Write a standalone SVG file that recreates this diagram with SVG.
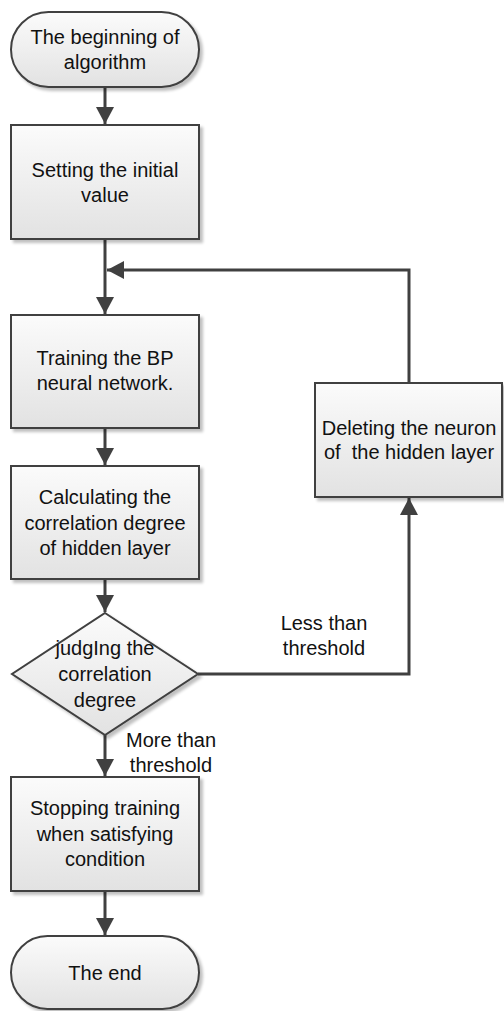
<svg xmlns="http://www.w3.org/2000/svg" width="504" height="1011" viewBox="0 0 504 1011">
<style>
.n{fill:url(#g);stroke:#404040;stroke-width:2;filter:url(#sh)}
.t{font-family:"Liberation Sans",Arial,sans-serif;font-size:20px;fill:#111;text-anchor:middle;white-space:pre}
.c{fill:none;stroke:#404040;stroke-width:3}
</style>
<defs>
<linearGradient id="g" x1="0" y1="0" x2="0" y2="1">
<stop offset="0" stop-color="#fbfbfb"/>
<stop offset="1" stop-color="#e2e2e2"/>
</linearGradient>
<filter id="sh" x="-10%" y="-10%" width="130%" height="130%">
<feGaussianBlur in="SourceAlpha" stdDeviation="1.5"/>
<feOffset dx="3" dy="3" result="b"/>
<feComponentTransfer><feFuncA type="linear" slope="0.25"/></feComponentTransfer>
<feMerge><feMergeNode/><feMergeNode in="SourceGraphic"/></feMerge>
</filter>
<marker id="a" markerWidth="17" markerHeight="18" viewBox="0 0 17 18" refX="17" refY="9" orient="auto" markerUnits="userSpaceOnUse">
<path d="M0,0 L17,9 L0,18 Z" fill="#404040"/>
</marker>
</defs>
<g id="connectors">
<path class="c" d="M105,87 V124" marker-end="url(#a)"/>
<path class="c" d="M105,239 V314" marker-end="url(#a)"/>
<path class="c" d="M409,383 V270 H107" marker-end="url(#a)"/>
<path class="c" d="M105,428 V465" marker-end="url(#a)"/>
<path class="c" d="M105,579 V612" marker-end="url(#a)"/>
<path class="c" d="M198,674 H409 V498" marker-end="url(#a)"/>
<path class="c" d="M105,735 V776" marker-end="url(#a)"/>
<path class="c" d="M105,891 V935" marker-end="url(#a)"/>
</g>
<g id="start">
<rect class="n" x="11" y="12" width="188" height="75" rx="37.5"/>
<text class="t" x="105" y="44">The beginning of</text>
<text class="t" x="105" y="69">algorithm</text>
</g>
<g id="setinit">
<rect class="n" x="11" y="125" width="188" height="114"/>
<text class="t" x="105" y="177">Setting the initial</text>
<text class="t" x="105" y="202">value</text>
</g>
<g id="train">
<rect class="n" x="11" y="315" width="188" height="113"/>
<text class="t" x="105" y="365">Training the BP</text>
<text class="t" x="105" y="390">neural network.</text>
</g>
<g id="calc">
<rect class="n" x="11" y="466" width="188" height="113"/>
<text class="t" x="105" y="504">Calculating the</text>
<text class="t" x="105" y="530">correlation degree</text>
<text class="t" x="105" y="555">of hidden layer</text>
</g>
<g id="judge">
<path class="n" d="M105,613 L198,674 L105,735 L12,674 Z"/>
<text class="t" x="105" y="655">judgIng the</text>
<text class="t" x="105" y="681">correlation</text>
<text class="t" x="105" y="707">degree</text>
</g>
<g id="delete">
<rect class="n" x="315" y="383" width="187" height="114"/>
<text class="t" x="409" y="435">Deleting the neuron</text>
<text class="t" x="409" y="459">of  the hidden layer</text>
</g>
<g id="stop">
<rect class="n" x="11" y="777" width="188" height="114"/>
<text class="t" x="105" y="815">Stopping training</text>
<text class="t" x="105" y="841">when satisfying</text>
<text class="t" x="105" y="866">condition</text>
</g>
<g id="end">
<rect class="n" x="11" y="936" width="188" height="73" rx="36.5"/>
<text class="t" x="105" y="980">The end</text>
</g>
<g id="labels">
<text class="t" x="324" y="630">Less than</text>
<text class="t" x="324" y="655">threshold</text>
<text class="t" x="171" y="747">More than</text>
<text class="t" x="171" y="772">threshold</text>
</g>
</svg>
